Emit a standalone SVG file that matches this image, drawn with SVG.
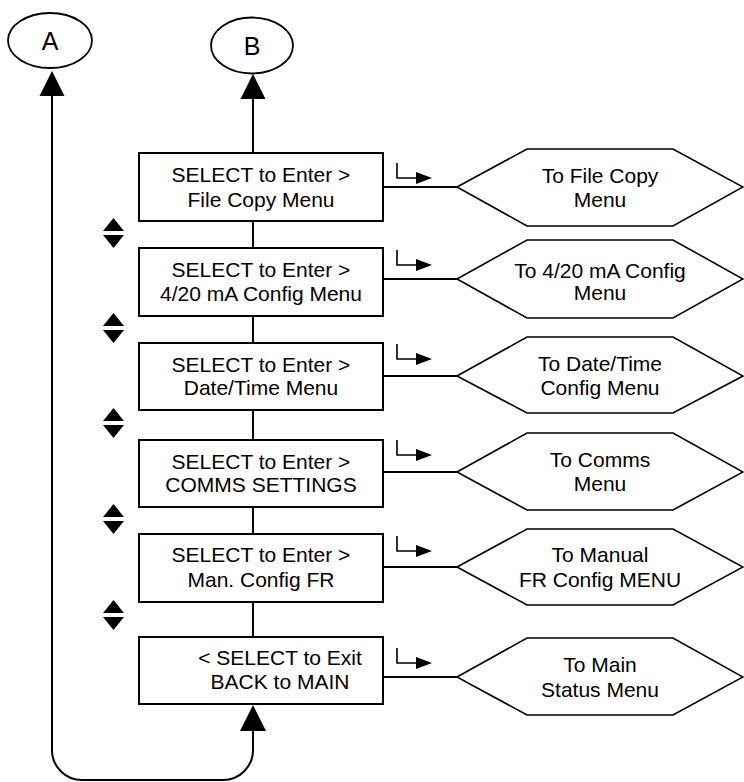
<svg xmlns="http://www.w3.org/2000/svg" width="744" height="782" viewBox="0 0 744 782">
<style>
text{font-family:"Liberation Sans",Arial,sans-serif;fill:#000;text-anchor:middle}
.t{font-size:21px}
.big{font-size:25px}
.box{fill:#fff;stroke:#000;stroke-width:2}
.hex{fill:#fff;stroke:#000;stroke-width:1.6}
.ell{fill:#fff;stroke:#000;stroke-width:1.8}
.ln{fill:none;stroke:#000;stroke-width:2}
.thin{fill:none;stroke:#000;stroke-width:1.6}
.ah{fill:#000;stroke:none}
</style>
<defs>
<polygon id="bentHead" points="0,-6 16,0 0,6"/>
<g id="updown">
<polygon points="0,0 10.5,13 -10.5,13"/>
<polygon points="-10.5,17 10.5,17 0,30"/>
</g>
</defs>

<g id="connectors">
<!-- A loop -->
<path class="ln" d="M52,96 V750 A30,30 0 0 0 82,780 H223 A30,30 0 0 0 253,750 V730"/>
<polygon class="ah" points="52,71 64.5,96 39.5,96"/>
<polygon class="ah" points="253,705 266,731 240,731"/>
<!-- spine -->
<path class="ln" d="M253,99 V153 M253,221 V248 M253,316 V343 M253,410 V440 M253,507 V534 M253,602 V637"/>
<polygon class="ah" points="253,74 265.5,99 240.5,99"/>
<!-- box to hexagon -->
<path class="ln" d="M383,187 H457 M383,279 H457 M383,376 H457 M383,472 H457 M383,567 H457 M383,677 H457"/>
<!-- bent arrows -->
<path class="thin" d="M397,163 V178 H418 M397,250 V265 H418 M397,344 V359 H418 M397,440 V455 H418 M397,536 V551 H418 M397,648 V663 H418"/>
<use href="#bentHead" x="416" y="178"/>
<use href="#bentHead" x="416" y="265"/>
<use href="#bentHead" x="416" y="359"/>
<use href="#bentHead" x="416" y="455"/>
<use href="#bentHead" x="416" y="551"/>
<use href="#bentHead" x="416" y="663"/>
<!-- up/down scroll markers -->
<use href="#updown" x="113.5" y="218"/>
<use href="#updown" x="113.5" y="313"/>
<use href="#updown" x="113.5" y="408"/>
<use href="#updown" x="113.5" y="504"/>
<use href="#updown" x="113.5" y="600"/>
</g>

<g id="nodeA">
<ellipse class="ell" cx="50" cy="40.5" rx="42" ry="27.5"/>
<text class="big" x="50" y="50">A</text>
</g>
<g id="nodeB">
<ellipse class="ell" cx="252" cy="45.5" rx="41" ry="28"/>
<text class="big" x="252" y="55">B</text>
</g>

<g id="box1">
<rect class="box" x="139" y="153" width="244" height="68"/>
<text class="t" x="261" y="182">SELECT to Enter &gt;</text>
<text class="t" x="261" y="207">File Copy Menu</text>
</g>
<g id="box2">
<rect class="box" x="139" y="248" width="244" height="68"/>
<text class="t" x="261" y="277">SELECT to Enter &gt;</text>
<text class="t" x="261" y="301">4/20 mA Config Menu</text>
</g>
<g id="box3">
<rect class="box" x="139" y="343" width="244" height="67"/>
<text class="t" x="261" y="372">SELECT to Enter &gt;</text>
<text class="t" x="261" y="395">Date/Time Menu</text>
</g>
<g id="box4">
<rect class="box" x="139" y="440" width="244" height="67"/>
<text class="t" x="261" y="469">SELECT to Enter &gt;</text>
<text class="t" x="261" y="492">COMMS SETTINGS</text>
</g>
<g id="box5">
<rect class="box" x="139" y="534" width="244" height="68"/>
<text class="t" x="261" y="562">SELECT to Enter &gt;</text>
<text class="t" x="261" y="587">Man. Config FR</text>
</g>
<g id="box6">
<rect class="box" x="139" y="637" width="244" height="67"/>
<text class="t" x="280" y="665">&lt; SELECT to Exit</text>
<text class="t" x="280" y="689">BACK to MAIN</text>
</g>

<g id="hex1">
<polygon class="hex" points="457,187 527,149 673,149 743,187 673,226 527,226"/>
<text class="t" x="600" y="183">To File Copy</text>
<text class="t" x="600" y="207">Menu</text>
</g>
<g id="hex2">
<polygon class="hex" points="457,279 527,240 673,240 743,279 673,318 527,318"/>
<text class="t" x="600" y="278">To 4/20 mA Config</text>
<text class="t" x="600" y="300">Menu</text>
</g>
<g id="hex3">
<polygon class="hex" points="457,376 527,337 673,337 743,376 673,413 527,413"/>
<text class="t" x="600" y="371">To Date/Time</text>
<text class="t" x="600" y="395">Config Menu</text>
</g>
<g id="hex4">
<polygon class="hex" points="457,472 527,433 673,433 743,472 673,510 527,510"/>
<text class="t" x="600" y="467">To Comms</text>
<text class="t" x="600" y="491">Menu</text>
</g>
<g id="hex5">
<polygon class="hex" points="457,567 527,529 673,529 743,567 673,605 527,605"/>
<text class="t" x="600" y="562">To Manual</text>
<text class="t" x="600" y="587">FR Config MENU</text>
</g>
<g id="hex6">
<polygon class="hex" points="457,677 527,638 673,638 743,677 673,715 527,715"/>
<text class="t" x="600" y="672">To Main</text>
<text class="t" x="600" y="697">Status Menu</text>
</g>
</svg>
